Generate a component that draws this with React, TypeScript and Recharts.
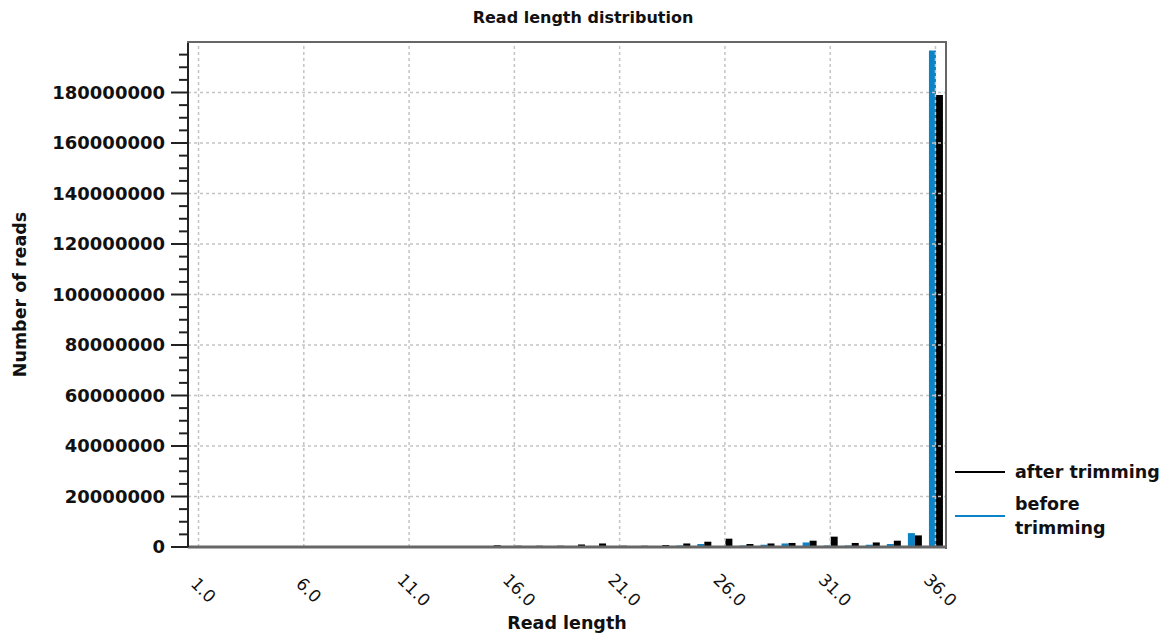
import React from 'react';
import { BarChart, Bar, XAxis, YAxis, ReferenceLine } from 'recharts';

const readLengths = [1,2,3,4,5,6,7,8,9,10,11,12,13,14,15,16,17,18,19,20,21,22,23,24,25,26,27,28,29,30,31,32,33,34,35,36];
const beforeTrimming = [300000,0,0,0,0,0,0,0,0,0,0,0,0,0,100000,100000,100000,100000,400000,400000,100000,100000,400000,600000,1200000,300000,600000,900000,1400000,1800000,600000,600000,900000,1200000,5500000,196600000];
const afterTrimming = [0,0,0,0,0,0,0,0,0,0,0,0,0,0,700000,500000,500000,500000,1000000,1400000,500000,500000,800000,1400000,2100000,3300000,1200000,1400000,1600000,2500000,4100000,1600000,1800000,2500000,4600000,179000000];
const xTickLabels = [1,6,11,16,21,26,31,36];
const yMajorTicks = [0,20000000,40000000,60000000,80000000,100000000,120000000,140000000,160000000,180000000];
const yAllTicks = [0,5000000,10000000,15000000,20000000,25000000,30000000,35000000,40000000,45000000,50000000,55000000,60000000,65000000,70000000,75000000,80000000,85000000,90000000,95000000,100000000,105000000,110000000,115000000,120000000,125000000,130000000,135000000,140000000,145000000,150000000,155000000,160000000,165000000,170000000,175000000,180000000,185000000,190000000,195000000];

const data = readLengths.map((len, i) => ({ len, before: beforeTrimming[i], after: afterTrimming[i] }));

const FONT = '"DejaVu Sans", sans-serif';
const BLUE = '#0a84c6';

const YTick = (props: any) => {
  const { x, y, payload } = props;
  const v = payload.value;
  const major = v % 20000000 === 0;
  return (
    <g>
      <line x1={x - (major ? 17 : 9)} x2={x} y1={y} y2={y} stroke="#222" strokeWidth={2} />
      {major && (
        <text x={x - 23} y={y} dy="0.36em" textAnchor="end" fontFamily={FONT} fontWeight="bold" fontSize={18} fill="#111">
          {String(v)}
        </text>
      )}
    </g>
  );
};

const XTick = (props: any) => {
  const { x, y, payload } = props;
  const cx = x + 5;
  const cy = y + 43;
  return (
    <text x={cx} y={cy} dy="0.36em" textAnchor="middle" transform={`rotate(45 ${cx} ${cy})`} fontFamily={FONT} fontSize={17} fill="#111">
      {`${payload.value}.0`}
    </text>
  );
};

export default function App() {
  return (
    <div style={{ position: 'absolute', left: 0, top: 0, width: 1171, height: 635, background: '#fff', fontFamily: FONT }}>
      <div style={{ position: 'absolute', left: 200, width: 766, top: 8, textAlign: 'center', fontSize: 16, fontWeight: 'bold', color: '#111' }}>
        Read length distribution
      </div>
      <BarChart width={1171} height={635} data={data} margin={{ top: 42, right: 225, left: 0, bottom: 0 }} barGap={0}>
        {yMajorTicks.map((v) => (
          <ReferenceLine key={'h' + v} y={v} stroke="#c4c4c4" strokeWidth={1.5} strokeDasharray="3 3" />
        ))}
        {xTickLabels.map((v) => (
          <ReferenceLine key={'v' + v} x={v} stroke="#c4c4c4" strokeWidth={1.5} strokeDasharray="3 3" />
        ))}
        <XAxis
          dataKey="len"
          type="category"
          interval={4}
          height={88}
          tickSize={0}
          tickMargin={0}
          tick={<XTick />}
          axisLine={{ stroke: '#666', strokeWidth: 3 }}
          tickLine={false}
          label={{ value: 'Read length', position: 'insideBottom', offset: 6, style: { fontFamily: FONT, fontWeight: 'bold', fontSize: 17.5, fill: '#111' } }}
        />
        <YAxis
          type="number"
          domain={[0, 200000000]}
          ticks={yAllTicks}
          width={188}
          tickSize={0}
          tickMargin={0}
          tick={<YTick />}
          axisLine={{ stroke: '#222', strokeWidth: 2 }}
          tickLine={false}
          interval={0}
          allowDataOverflow
          label={{ value: 'Number of reads', angle: -90, position: 'insideLeft', offset: 20, style: { textAnchor: 'middle', fontFamily: FONT, fontWeight: 'bold', fontSize: 17.5, fill: '#111' } }}
        />
        <Bar dataKey="before" fill={BLUE} barSize={7} isAnimationActive={false} />
        <Bar dataKey="after" fill="#000" barSize={7} isAnimationActive={false} />
      </BarChart>
      <div style={{ position: 'absolute', left: 187, top: 41, width: 758, height: 506, borderTop: '2px solid #666', borderRight: '2px solid #666', pointerEvents: 'none' }} />
      <div style={{ position: 'absolute', left: 955, top: 460, width: 216, fontSize: 17.5, fontWeight: 'bold', color: '#111', lineHeight: '24px' }}>
        <div style={{ display: 'flex', alignItems: 'center' }}>
          <div style={{ width: 50, height: 2, background: '#000', marginRight: 10 }} />
          <div>after trimming</div>
        </div>
        <div style={{ display: 'flex', alignItems: 'center', marginTop: 8 }}>
          <div style={{ width: 50, height: 2, background: BLUE, marginRight: 10 }} />
          <div>before<br />trimming</div>
        </div>
      </div>
    </div>
  );
}
